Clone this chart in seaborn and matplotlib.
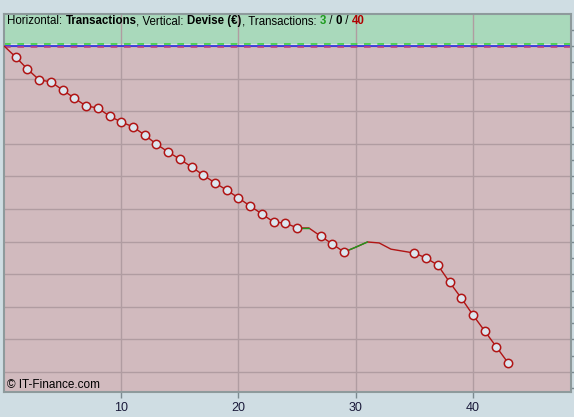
import matplotlib
matplotlib.use("Agg")
import matplotlib.pyplot as plt
import seaborn as sns
import numpy as np
import pandas as pd

# ---- data ----
trades = list(range(0, 44))
equity = [0, -34, -71, -104, -110, -135, -160, -184, -190, -215,
          -233, -248, -273, -301, -325, -347, -371, -396, -420, -442,
          -466, -491, -515, -540, -543, -558, -558, -583, -607, -632,
          -617, -601, -604, -623, -629, -635, -650, -672, -724, -773,
          -825, -874, -923, -972]
green_ends = [26, 30, 31]          # trades whose segment is drawn in green
marker_trades = list(range(1, 26)) + [27, 28, 29] + list(range(35, 44))
max_line = 6
min_line = -3
xticks = [10, 20, 30, 40]
n_win, n_even, n_loss = 3, 0, 40

df = pd.DataFrame({"trade": trades, "equity": equity})

sns.set_theme(style="white")
plt.rcParams["font.family"] = ["Liberation Sans", "DejaVu Sans"]

W, H = 574, 417
fig = plt.figure(figsize=(W / 100, H / 100), dpi=100)
fig.patch.set_facecolor("#cfdde3")
ax = fig.add_axes([4 / W, (H - 392) / H, (571 - 4) / W, (392 - 14) / H])
ax.set_facecolor("#d1babe")

ylo, yhi = -1061, 98
ax.set_xlim(0, 48.36)
ax.set_ylim(ylo, yhi)

# background bands
ax.axhspan(max_line, yhi, color="#a9d9bb", zorder=0, lw=0)
ax.axhspan(min_line, max_line, color="#d8e2e2", zorder=0, lw=0)

# grid
for v in range(0, -1001, -100):
    ax.axhline(v, color="#b09ca1", lw=1, zorder=1)
for v in xticks:
    ax.axvline(v, color="#b09ca1", lw=1, zorder=1)

ax.axhline(max_line, color="#3fcf3f", lw=1.2, ls=(0, (4, 4)), zorder=2)
ax.axhline(0, color="#2a2ae0", lw=1.2, zorder=2)
ax.axhline(min_line, color="#c04080", lw=1.2, ls=(0, (4, 4)), zorder=2)

# equity line
sns.lineplot(data=df, x="trade", y="equity", color="#b01414", lw=1,
             ax=ax, zorder=3, estimator=None)
for e in green_ends:
    seg = df[(df.trade >= e - 1) & (df.trade <= e)]
    sns.lineplot(data=seg, x="trade", y="equity", color="#1e9a1e", lw=1,
                 ax=ax, zorder=4, estimator=None)
mk = df[df.trade.isin(marker_trades)]
sns.scatterplot(data=mk, x="trade", y="equity", s=36, facecolor="#dce6ee",
                edgecolor="#b01414", linewidth=1.1, ax=ax, zorder=5)

ax.set_xlabel("")
ax.set_ylabel("")
ax.set_xticks(xticks)
ax.set_xticklabels([str(t) for t in xticks], color="#1a1a3a", fontsize=9)
ax.tick_params(axis="x", direction="out", length=4, width=1, color="#7a8a90",
               pad=3, bottom=True)
ax.set_yticks(np.arange(50, -1051, -50))
ax.yaxis.tick_right()
ax.tick_params(axis="y", direction="out", length=3, width=1, color="#7a8a90",
               labelright=False, right=True, left=False)

for s in ax.spines.values():
    s.set_color("#8e9a9c")
    s.set_linewidth(1.5)
    s.set_visible(True)

# header text, pieces placed side by side on a common baseline
fs = 8.3
parts = [("Horizontal: ", "normal", "black"), ("Transactions", "bold", "black"),
         (", Vertical: ", "normal", "black"),
         ("Devise (€)", "bold", "black"), (", Transactions: ", "normal", "black"),
         (str(n_win), "bold", "#1e9a1e"), (" / ", "normal", "black"),
         (str(n_even), "bold", "black"), (" / ", "normal", "black"),
         (str(n_loss), "bold", "#b00000")]
renderer = fig.canvas.get_renderer()
x_px = 7
y_px = H - 24
for txt, wt, col in parts:
    t = fig.text(x_px / W, y_px / H, txt, fontsize=fs, fontweight=wt,
                 color=col, va="baseline", ha="left")
    bb = t.get_window_extent(renderer)
    x_px += bb.width

ax.text(3 / 567, 7 / 378, "© IT-Finance.com", transform=ax.transAxes,
        fontsize=8.5, va="center", ha="left", color="black")

fig.savefig("out.png", dpi=100, facecolor=fig.get_facecolor())
